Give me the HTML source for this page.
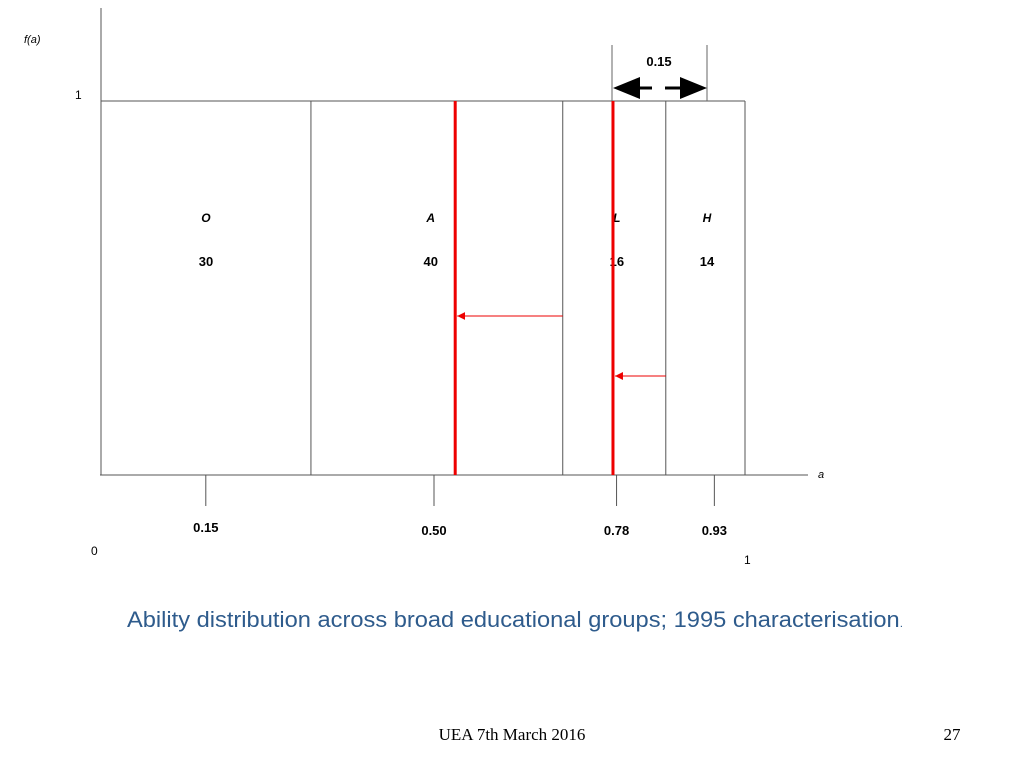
<!DOCTYPE html>
<html><head><meta charset="utf-8"><style>
body{margin:0;background:#fff;width:1024px;height:768px;overflow:hidden}
svg{display:block;font-family:"Liberation Sans",sans-serif}
</style></head><body>
<svg width="1024" height="768">
<defs>
<marker id="ra" markerWidth="8" markerHeight="8" refX="8" refY="4" orient="auto" markerUnits="userSpaceOnUse"><path d="M0,0 L8,4 L0,8 z" fill="#e00"/></marker>
</defs>
<g id="chart"></g>
<text x="24" y="43" font-size="11" font-style="italic">f(a)</text>
<text x="75" y="99" font-size="12">1</text>
<text x="818" y="478" font-size="11" font-style="italic">a</text>
<text x="91" y="555" font-size="12">0</text>
<text x="744" y="564" font-size="12">1</text>
<g>
<line x1="612" y1="45" x2="612" y2="101" stroke="#666"/>
<line x1="707" y1="45" x2="707" y2="101" stroke="#666"/>
<text x="659" y="66" font-size="13" font-weight="bold" text-anchor="middle">0.15</text>
<polygon points="613,88 640,77 640,99" fill="#000"/>
<polygon points="707,88 680,77 680,99" fill="#000"/>
<line x1="638" y1="88" x2="652" y2="88" stroke="#000" stroke-width="3"/>
<line x1="665" y1="88" x2="682" y2="88" stroke="#000" stroke-width="3"/>
</g>
<text x="127" y="627" font-size="22" fill="#2e5b8c" textLength="776" lengthAdjust="spacingAndGlyphs">Ability distribution across broad educational groups; 1995 characterisation<tspan font-size="11">.</tspan></text>
<text x="512" y="740" font-size="17" font-family="Liberation Serif, serif" text-anchor="middle">UEA 7th March 2016</text>
<text x="952" y="740" font-size="17" font-family="Liberation Serif, serif" text-anchor="middle">27</text>
</svg>
<script>
const groups=["O","A","L","H"];
const shares=["30","40","16","14"];
const boundaries=[0,0.326,0.717,0.877,1.0];
const tickValues=[0.15,0.50,0.78,0.93];
const tickLabels=["0.15","0.50","0.78","0.93"];
const redLines=[0.55,0.795];
const labelX=[0.163,0.512,0.801,0.941];
const x0=101,x1=745,yTop=101,yBase=475;
const sx=v=>x0+v*(x1-x0);
const tx=v=>108+v*652;
const g=document.getElementById('chart');
const NS="http://www.w3.org/2000/svg";
function mk(t,a){const e=document.createElementNS(NS,t);for(const k in a)e.setAttribute(k,a[k]);g.appendChild(e);return e;}
let e=mk('line',{x1:101,y1:8,x2:101,y2:yBase,stroke:'#555'});


e=mk('line',{x1:100,y1:yBase,x2:808,y2:yBase,stroke:'#555'});


e=mk('line',{x1:x0,y1:yTop,x2:x1,y2:yTop,stroke:'#555'});


boundaries.slice(1).forEach((b,i)=>{
 const l=mk('line',{x1:sx(b),y1:yTop,x2:sx(b),y2:yBase,stroke:'#555'});
 
 
});
groups.forEach((n,i)=>{
 const cx=sx(labelX[i]);
 const t=mk('text',{x:cx,y:222,'font-size':12,'font-weight':'bold','font-style':'italic','text-anchor':'middle'});t.textContent=n;
 
 
 const s=mk('text',{x:cx,y:266,'font-size':13,'font-weight':'bold','text-anchor':'middle'});s.textContent=shares[i];
 
 
});
tickValues.forEach((v,i)=>{
 const X=tx(v);
 const l=mk('line',{x1:X,y1:yBase,x2:X,y2:506,stroke:'#555'});
 
 
 const t=mk('text',{x:X,y:i==0?532:535,'font-size':13,'font-weight':'bold','text-anchor':'middle'});t.textContent=tickLabels[i];
 
 
});
redLines.forEach(v=>{
 const l=mk('line',{x1:sx(v),y1:yTop,x2:sx(v),y2:yBase,stroke:'#e00',"stroke-width":3});
 
 
});
[[boundaries[2],redLines[0],316],[boundaries[3],redLines[1],376]].forEach(a=>{
 const l=mk('line',{x1:sx(a[0]),y1:a[2],x2:sx(a[1])+2,y2:a[2],stroke:'#e00','marker-end':'url(#ra)'});
 
 
});
</script>
</body></html>
